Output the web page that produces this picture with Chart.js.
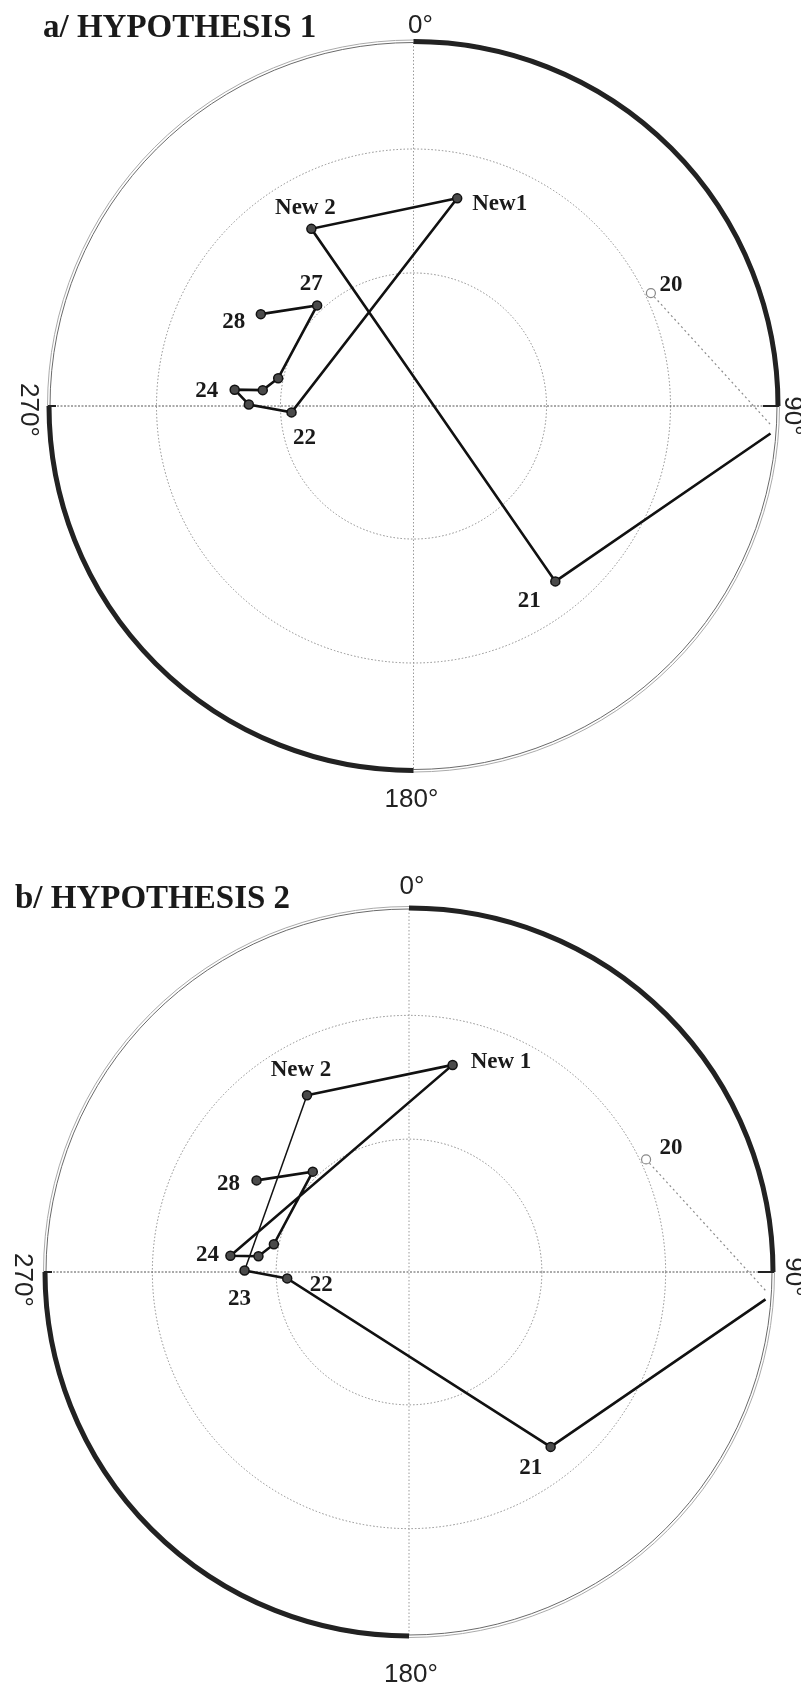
<!DOCTYPE html>
<html>
<head>
<meta charset="utf-8">
<script src="https://cdn.jsdelivr.net/npm/chart.js@4.4.1/dist/chart.umd.min.js"></script>
<style>
  body { margin: 0; background: #fff; }
  #page { position: relative; width: 801px; height: 1691px; overflow: hidden; }
  canvas { position: absolute; left: 0; }
  #chartA { top: 0; }
  #chartB { top: 845px; }
  .title {
    position: absolute;
    font-family: "Liberation Serif", "Times New Roman", serif;
    font-weight: bold;
    font-size: 33px;
    line-height: 33px;
    color: #1a1a1a;
    white-space: nowrap;
  }
</style>
</head>
<body>
<div id="page">
  <canvas id="chartA" width="801" height="845"></canvas>
  <canvas id="chartB" width="801" height="846"></canvas>
  <div class="title" style="left:43px; top:10px">a/ HYPOTHESIS 1</div>
  <div class="title" style="left:15px; top:881px">b/ HYPOTHESIS 2</div>
</div>
<script>
// ----------------- DATA -----------------
// poles read off the net: azimuth in degrees clockwise from 0°,
// distance from the centre as a fraction of the primitive circle
const poleNames   = ["21", "22", "23", "24", "25", "26", "27", "28", "New 1", "New 2"];
const poleAzimuth = [141.0, 267.0, 270.5, 275.2, 276.0, 281.6, 316.2, 301.0, 11.9, 330.0];
const poleRadius  = [0.620, 0.336, 0.453, 0.494, 0.417, 0.380, 0.383, 0.490, 0.583, 0.562];

// pole 20 is on the upper hemisphere (open symbol, dotted track to the primitive)
const upperAzimuth = [64.6, 93.0];
const upperRadius  = [0.723, 0.984];
// where the solid track comes back in from the primitive
const entryAzimuth = 94.4;
const entryRadius  = 0.985;

// order in which each hypothesis joins the poles
const pathA = ["21", "New 2", "New 1", "22", "23", "24", "25", "26", "27", "28"];
const pathB = ["21", "22", "23", "New 2", "New 1", "24", "25", "26", "27", "28"];

// grid circles (equal-area, 30° and 60° from the centre) and compass labels
const ringTicks  = [0.366, 0.707];
const angleTicks = ["0°", "90°", "180°", "270°"];

// labels shown on each panel
const labelsA = { "20": "20", "21": "21", "22": "22", "24": "24", "27": "27", "28": "28", "New 1": "New1", "New 2": "New 2" };
const labelsB = { "20": "20", "21": "21", "22": "22", "23": "23", "24": "24", "28": "28", "New 1": "New 1", "New 2": "New 2" };

// ----------------- LAYOUT -----------------
const panelA = {
  canvas: "chartA",
  path: pathA,
  labels: labelsA,
  thin: [],
  padding: { left: 50, right: 24, top: 42, bottom: 75 },
  angleOffsets: [[7, -17], [15, 10], [-2, 30], [-22, 4]],
  labelOffsets: {
    "20": [20, -8, "center"], "21": [-26, 20, "center"], "22": [13, 26, "center"],
    "24": [-28, 1, "center"], "27": [-6, -21, "center"], "28": [-27, 8, "center"],
    "New 1": [15, 6, "left"], "New 2": [-6, -21, "center"]
  }
};

const panelB = {
  canvas: "chartB",
  path: pathB,
  labels: labelsB,
  thin: [["23", "New 2"]],
  padding: { left: 46, right: 29, top: 64, bottom: 56 },
  angleOffsets: [[3, -22], [21, 5], [2, 40], [-24, 8]],
  labelOffsets: {
    "20": [25, -11, "center"], "21": [-20, 21, "center"], "22": [34, 7, "center"],
    "23": [-5, 28, "center"], "24": [-23, -1, "center"], "28": [-28, 4, "center"],
    "New 1": [18, -3, "left"], "New 2": [-6, -25, "center"]
  }
};

// ----------------- HELPERS -----------------
function toXY(az, r) {
  const a = az * Math.PI / 180;
  return { x: r * Math.sin(a), y: r * Math.cos(a) };
}

function polePoint(name) {
  const i = poleNames.indexOf(name);
  return toXY(poleAzimuth[i], poleRadius[i]);
}

function geometry(chart) {
  const sx = chart.scales.x, sy = chart.scales.y;
  const cx = sx.getPixelForValue(0);
  const cy = sy.getPixelForValue(0);
  const R = sx.getPixelForValue(1) - cx;
  return { cx, cy, R };
}

// ----------------- NET PLUGIN -----------------
const netPlugin = {
  id: "net",
  beforeDatasetsDraw(chart, args, opts) {
    const ctx = chart.ctx;
    const { cx, cy, R } = geometry(chart);
    const rad = a => (a - 90) * Math.PI / 180;
    ctx.save();

    // inner circles
    ctx.strokeStyle = "#8a8a8a";
    ctx.lineWidth = 1;
    ctx.setLineDash([1.5, 2]);
    ringTicks.forEach(t => {
      ctx.beginPath();
      ctx.arc(cx, cy, t * R, 0, Math.PI * 2);
      ctx.stroke();
    });

    // 0-180 axis
    ctx.strokeStyle = "#9a9a9a";
    ctx.beginPath();
    ctx.moveTo(cx, cy - R);
    ctx.lineTo(cx, cy + R);
    ctx.stroke();

    // 90-270 axis
    ctx.strokeStyle = "#555";
    ctx.setLineDash([2, 1.5]);
    ctx.beginPath();
    ctx.moveTo(cx - R, cy);
    ctx.lineTo(cx + R, cy);
    ctx.stroke();

    // primitive circle: thin double line
    ctx.setLineDash([]);
    ctx.strokeStyle = "#6a6a6a";
    ctx.lineWidth = 1;
    ctx.beginPath();
    ctx.arc(cx, cy, R, 0, Math.PI * 2);
    ctx.stroke();
    ctx.strokeStyle = "#aaa";
    ctx.beginPath();
    ctx.arc(cx, cy, R + 2.5, 0, Math.PI * 2);
    ctx.stroke();

    // heavy quadrants 0-90 and 180-270
    ctx.strokeStyle = "#222";
    ctx.lineWidth = 5;
    ctx.beginPath();
    ctx.arc(cx, cy, R + 1, rad(0), rad(90));
    ctx.stroke();
    ctx.beginPath();
    ctx.arc(cx, cy, R + 1, rad(180), rad(270));
    ctx.stroke();

    // short stubs where the heavy arcs meet the horizontal axis
    ctx.lineWidth = 2;
    ctx.beginPath();
    ctx.moveTo(cx + R - 14, cy);
    ctx.lineTo(cx + R + 2, cy);
    ctx.moveTo(cx - R - 2, cy);
    ctx.lineTo(cx - R + 6, cy);
    ctx.stroke();

    ctx.restore();
  },
  afterDraw(chart, args, opts) {
    const ctx = chart.ctx;
    const { cx, cy, R } = geometry(chart);
    const panel = opts.panel;
    ctx.save();

    // compass labels
    ctx.fillStyle = "#222";
    ctx.font = "26px 'Liberation Sans', Arial, sans-serif";
    ctx.textAlign = "center";
    ctx.textBaseline = "middle";
    const anchors = [[cx, cy - R], [cx + R, cy], [cx, cy + R], [cx - R, cy]];
    angleTicks.forEach((txt, i) => {
      const [ox, oy] = panel.angleOffsets[i];
      const x = anchors[i][0] + ox, y = anchors[i][1] + oy;
      if (i === 1 || i === 3) {
        ctx.save();
        ctx.translate(x, y);
        ctx.rotate(Math.PI / 2);
        ctx.fillText(txt, 0, 0);
        ctx.restore();
      } else {
        ctx.fillText(txt, x, y);
      }
    });

    // pole labels
    ctx.font = "bold 23px 'Liberation Serif', 'Times New Roman', serif";
    ctx.fillStyle = "#1a1a1a";
    const upper = chart.getDatasetMeta(0).data;
    const main = chart.getDatasetMeta(1).data;
    Object.entries(panel.labels).forEach(([name, txt]) => {
      let el;
      if (name === "20") el = upper[0];
      else el = main[panel.path.indexOf(name) + 1];
      if (!el) return;
      const [ox, oy, align] = panel.labelOffsets[name];
      ctx.textAlign = align;
      ctx.fillText(txt, el.x + ox, el.y + oy);
    });

    ctx.restore();
  }
};

// ----------------- CHARTS -----------------
function buildChart(panel) {
  const upperData = upperAzimuth.map((az, i) => toXY(az, upperRadius[i]));
  const mainData = [toXY(entryAzimuth, entryRadius)].concat(panel.path.map(polePoint));

  const isThin = (a, b) => panel.thin.some(([p, q]) =>
    (p === a && q === b) || (p === b && q === a));

  return new Chart(document.getElementById(panel.canvas), {
    type: "scatter",
    data: {
      datasets: [
        {
          data: upperData,
          showLine: true,
          borderColor: "#8c8c8c",
          borderWidth: 1.2,
          borderDash: [2, 3],
          pointRadius: [4.5, 0],
          pointBackgroundColor: "#fff",
          pointBorderColor: "#888",
          pointBorderWidth: 1.2
        },
        {
          data: mainData,
          showLine: true,
          borderColor: "#111",
          borderWidth: 2.6,
          pointRadius: mainData.map((_, i) => i === 0 ? 0 : 4.5),
          pointBackgroundColor: "#4a4a4a",
          pointBorderColor: "#111",
          pointBorderWidth: 1.5,
          segment: {
            borderWidth: c => {
              const a = panel.path[c.p0DataIndex - 1];
              const b = panel.path[c.p1DataIndex - 1];
              return isThin(a, b) ? 1.5 : undefined;
            }
          }
        }
      ]
    },
    options: {
      responsive: false,
      animation: false,
      layout: { padding: panel.padding },
      scales: {
        x: { type: "linear", min: -1, max: 1, display: false },
        y: { type: "linear", min: -1, max: 1, display: false }
      },
      plugins: {
        legend: { display: false },
        tooltip: { enabled: false },
        net: { panel }
      }
    },
    plugins: [netPlugin]
  });
}

window.addEventListener("load", () => {
  buildChart(panelA);
  buildChart(panelB);
});
</script>
</body>
</html>
